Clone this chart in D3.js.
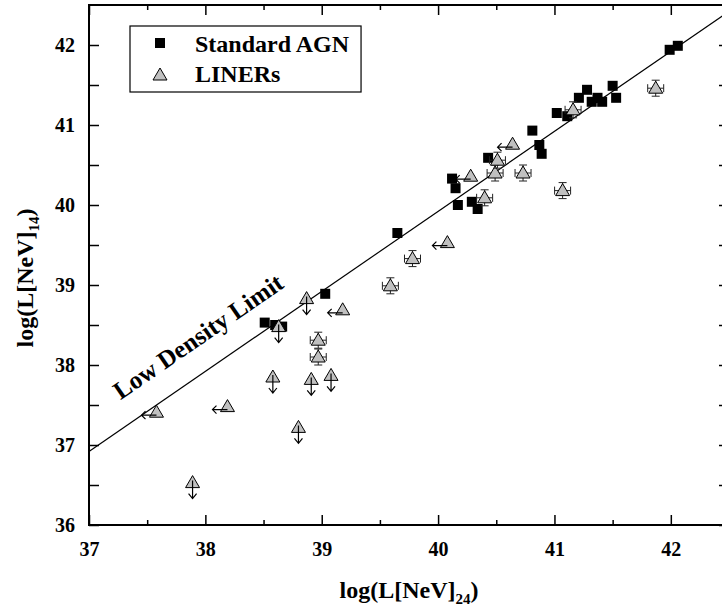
<!DOCTYPE html>
<html><head><meta charset="utf-8">
<script src="https://cdn.jsdelivr.net/npm/d3@7"></script>
<style>
body{margin:0;background:#fff}
svg{display:block}
text{font-family:"Liberation Serif","Times New Roman",serif;font-weight:bold;fill:#000}
</style>
</head><body>
<svg id="chart" width="722" height="609"></svg>
<script>
// ---- data ----
const xDomain = [37, 42.5];
const yDomain = [36, 42.5];
const xTicks = [37, 38, 39, 40, 41, 42];
const yTicks = [36, 37, 38, 39, 40, 41, 42];
const xMinor = [37.5, 38.5, 39.5, 40.5, 41.5, 42.5];
const yMinor = [36.5, 37.5, 38.5, 39.5, 40.5, 41.5];

// Standard AGN
const agnX = [39.03, 38.51, 38.60, 38.66, 39.65, 40.12, 40.15, 40.17, 40.29, 40.34, 40.43,
              40.81, 40.87, 40.89, 41.02, 41.11, 41.21, 41.28, 41.32, 41.37, 41.41, 41.50, 41.53, 41.99, 42.06];
const agnY = [38.89, 38.53, 38.50, 38.48, 39.65, 40.33, 40.21, 40.00, 40.04, 39.95, 40.59,
              40.93, 40.75, 40.64, 41.15, 41.11, 41.34, 41.44, 41.29, 41.34, 41.29, 41.49, 41.34, 41.94, 41.99];

// LINERs: type "d" = upper limit in y (down arrow), "l" = upper limit in x (left arrow), "e" = error bars
const linerX = [38.87, 38.63, 38.58, 38.91, 39.08, 38.80, 37.89,
                39.18, 37.58, 38.19, 40.08, 40.28, 40.64,
                38.97, 38.97, 39.59, 39.78, 40.40, 40.49, 40.51, 40.73, 41.07, 41.16, 41.87];
const linerY = [38.83, 38.48, 37.85, 37.82, 37.87, 37.22, 36.53,
                38.69, 37.41, 37.48, 39.53, 40.36, 40.76,
                38.31, 38.10, 38.99, 39.33, 40.09, 40.40, 40.56, 40.40, 40.18, 41.19, 41.46];
const linerType = ["d","d","d","d","d","d","d",
                   "l","l","l","l","l","l",
                   "e","e","e","e","e","e","e","e","e","e","e"];

// Low density limit line: y = x + intercept
const ldlIntercept = -0.08;
const ldlLabel = "Low Density Limit";
const legendLabels = ["Standard AGN", "LINERs"];

// ---- drawing ----
const svg = d3.select("#chart");
const x = d3.scaleLinear().domain(xDomain).range([89, 729]);
const y = d3.scaleLinear().domain(yDomain).range([525, 5]);

const defs = svg.append("defs");
defs.append("clipPath").attr("id","plotclip").append("rect")
  .attr("x", x(xDomain[0])).attr("y", y(yDomain[1]))
  .attr("width", x(xDomain[1]) - x(xDomain[0])).attr("height", y(yDomain[0]) - y(yDomain[1]));

// axes
function styleAxis(g){
  g.select(".domain").remove();
  g.selectAll(".tick line").attr("stroke","#000").attr("stroke-width",1.5);
  g.selectAll(".tick text").style("font-size","20px");
}
svg.append("g").attr("transform",`translate(0,${y(yDomain[0])})`)
  .call(d3.axisBottom(x).tickValues(xTicks).tickSize(-10).tickPadding(17).tickFormat(d3.format("d"))).call(styleAxis);
svg.append("g").attr("transform",`translate(0,${y(yDomain[0])})`)
  .call(d3.axisBottom(x).tickValues(xMinor).tickSize(-5).tickFormat("")).call(styleAxis);
svg.append("g").attr("transform",`translate(0,${y(yDomain[1])})`)
  .call(d3.axisTop(x).tickValues(xTicks).tickSize(-10).tickFormat("")).call(styleAxis);
svg.append("g").attr("transform",`translate(0,${y(yDomain[1])})`)
  .call(d3.axisTop(x).tickValues(xMinor).tickSize(-5).tickFormat("")).call(styleAxis);
svg.append("g").attr("transform",`translate(${x(xDomain[0])},0)`)
  .call(d3.axisLeft(y).tickValues(yTicks).tickSize(-10).tickPadding(14).tickFormat(d3.format("d"))).call(styleAxis);
svg.append("g").attr("transform",`translate(${x(xDomain[0])},0)`)
  .call(d3.axisLeft(y).tickValues(yMinor).tickSize(-10).tickFormat("")).call(styleAxis);
svg.append("g").attr("transform",`translate(${x(xDomain[1])},0)`)
  .call(d3.axisRight(y).tickValues(yTicks).tickSize(-10).tickFormat("")).call(styleAxis);
svg.append("g").attr("transform",`translate(${x(xDomain[1])},0)`)
  .call(d3.axisRight(y).tickValues(yMinor).tickSize(-10).tickFormat("")).call(styleAxis);

// frame
svg.append("rect")
  .attr("x", x(xDomain[0])).attr("y", y(yDomain[1]))
  .attr("width", x(xDomain[1]) - x(xDomain[0])).attr("height", y(yDomain[0]) - y(yDomain[1]))
  .attr("fill","none").attr("stroke","#000").attr("stroke-width",2);

// low density line
const plot = svg.append("g").attr("clip-path","url(#plotclip)");
plot.append("line")
  .attr("x1", x(xDomain[0])).attr("y1", y(xDomain[0] + ldlIntercept))
  .attr("x2", x(xDomain[1])).attr("y2", y(xDomain[1] + ldlIntercept))
  .attr("stroke","#000").attr("stroke-width",1.2);

const angle = Math.atan2(y(38) - y(37), x(38) - x(37)) * 180 / Math.PI;
svg.append("text")
  .attr("transform", `translate(${x(37.27)},${y(37.56)}) rotate(${angle})`)
  .style("font-size","25px")
  .text(ldlLabel);

// AGN squares
const sq = 10;
plot.selectAll("rect.agn").data(agnX.map((d,i)=>[d, agnY[i]])).join("rect")
  .attr("class","agn")
  .attr("x", d => x(d[0]) - sq/2).attr("y", d => y(d[1]) - sq/2)
  .attr("width", sq).attr("height", sq).attr("fill","#000");

// LINERs
const liners = linerX.map((d,i)=>({x:d, y:linerY[i], t:linerType[i]}));
const triPath = "M0,-7L7,5L-7,5Z";
const lg = plot.selectAll("g.liner").data(liners).join("g")
  .attr("class","liner")
  .attr("transform", d => `translate(${x(d.x)},${y(d.y)})`);

// error bars behind
lg.filter(d => d.t === "e").each(function(){
  const g = d3.select(this);
  const s = "#222";
  g.append("line").attr("x1",-8).attr("x2",8).attr("y1",0).attr("y2",0).attr("stroke",s);
  g.append("line").attr("x1",0).attr("x2",0).attr("y1",-8).attr("y2",8).attr("stroke",s);
  g.append("line").attr("x1",-8).attr("x2",-8).attr("y1",-4).attr("y2",4).attr("stroke",s);
  g.append("line").attr("x1",8).attr("x2",8).attr("y1",-4).attr("y2",4).attr("stroke",s);
  g.append("line").attr("x1",-4).attr("x2",4).attr("y1",-8).attr("y2",-8).attr("stroke",s);
  g.append("line").attr("x1",-4).attr("x2",4).attr("y1",8).attr("y2",8).attr("stroke",s);
});
lg.append("path").attr("d", triPath).attr("fill","#c0c0c0").attr("stroke","#000").attr("stroke-width",1);

lg.filter(d => d.t === "d").append("path")
  .attr("d","M0,-2L0,16M-4,11L0,16L4,11").attr("fill","none").attr("stroke","#000").attr("stroke-width",1.2);
lg.filter(d => d.t === "l").append("path")
  .attr("d","M0,3L-15,3M-11,-1L-15,3L-11,7").attr("fill","none").attr("stroke","#000").attr("stroke-width",1.2);

// legend
const legend = svg.append("g");
const legText = legend.selectAll("text").data(legendLabels).join("text")
  .attr("x", 195).attr("y", (d,i) => 52 + i*30)
  .style("font-size","24px").text(d => d);
let maxW = 0;
legText.each(function(){ maxW = Math.max(maxW, this.getComputedTextLength()); });
legend.insert("rect","text").attr("x",130).attr("y",26).attr("width", 195 + maxW + 12 - 130).attr("height",66)
  .attr("fill","#fff").attr("stroke","#000").attr("stroke-width",1.2);
legend.append("rect").attr("x",160-sq/2).attr("y",43-sq/2).attr("width",sq).attr("height",sq).attr("fill","#000");
legend.append("path").attr("transform","translate(160,75)").attr("d",triPath).attr("fill","#c0c0c0").attr("stroke","#000");

// axis titles
const xt = svg.append("text").attr("x", 409).attr("y", 598).attr("text-anchor","middle").style("font-size","24px");
xt.append("tspan").text("log(L[NeV]");
xt.append("tspan").attr("dy",6).style("font-size","15px").text("24");
xt.append("tspan").attr("dy",-6).text(")");

const yt = svg.append("text").attr("transform","translate(33,278) rotate(-90)").attr("text-anchor","middle").style("font-size","24px");
yt.append("tspan").text("log(L[NeV]");
yt.append("tspan").attr("dy",6).style("font-size","15px").text("14");
yt.append("tspan").attr("dy",-6).text(")");
</script>
</body></html>
